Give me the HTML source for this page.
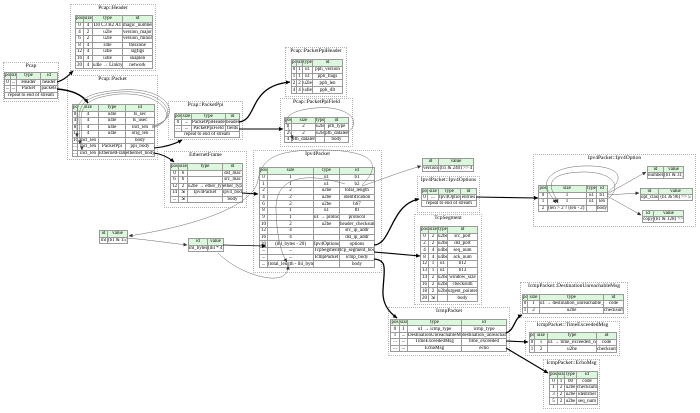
<!DOCTYPE html>
<html>
<head>
<meta charset="utf-8">
<style>
html,body{margin:0;padding:0;background:#fff;}
body{width:700px;height:413px;overflow:hidden;position:relative;font-family:"Liberation Serif",serif;color:#000;}
.c{position:absolute;border:1px dotted #b4b4b4;box-sizing:border-box;}
.t{position:absolute;font-size:5.5px;line-height:6px;text-align:center;white-space:nowrap;}
table{position:absolute;border-collapse:collapse;table-layout:fixed;font-size:5px;line-height:5px;}
td{border:1px solid #9a9a9a;padding:0;white-space:nowrap;overflow:hidden;text-align:center;vertical-align:middle;}
tr.h td{background:#dcf8dc;}
svg{position:absolute;left:0;top:0;pointer-events:none;}
</style>
</head>
<body>

<!-- clusters -->
<div class="c" style="left:3px;top:62px;width:56px;height:40px"></div>
<div class="t" style="left:3px;top:63px;width:56px">Pcap</div>

<div class="c" style="left:70px;top:4px;width:86px;height:67px"></div>
<div class="t" style="left:70px;top:5px;width:86px">Pcap::Header</div>

<div class="c" style="left:67px;top:75px;width:91px;height:85px"></div>
<div class="t" style="left:67px;top:76px;width:91px">Pcap::Packet</div>

<div class="c" style="left:168px;top:101px;width:75px;height:39px"></div>
<div class="t" style="left:168px;top:102px;width:75px">Pcap::PacketPpi</div>

<div class="c" style="left:285px;top:47px;width:62px;height:50px"></div>
<div class="t" style="left:285px;top:48px;width:62px">Pcap::PacketPpiHeader</div>

<div class="c" style="left:280px;top:98px;width:73px;height:49px"></div>
<div class="t" style="left:280px;top:99px;width:73px">Pcap::PacketPpiField</div>

<div class="c" style="left:164px;top:151px;width:83px;height:57px"></div>
<div class="t" style="left:164px;top:152px;width:83px">EthernetFrame</div>

<div class="c" style="left:253px;top:150px;width:129px;height:123px"></div>
<div class="t" style="left:253px;top:151px;width:129px">Ipv4Packet</div>

<div class="c" style="left:417px;top:176px;width:63px;height:37px"></div>
<div class="t" style="left:417px;top:177px;width:63px">Ipv4Packet::Ipv4Options</div>

<div class="c" style="left:414px;top:214px;width:68px;height:91px"></div>
<div class="t" style="left:414px;top:215px;width:68px">TcpSegment</div>

<div class="c" style="left:388px;top:307px;width:122px;height:49px"></div>
<div class="t" style="left:388px;top:308px;width:122px">IcmpPacket</div>

<div class="c" style="left:533px;top:154px;width:163px;height:73px"></div>
<div class="t" style="left:533px;top:155px;width:163px">Ipv4Packet::Ipv4Option</div>

<div class="c" style="left:520px;top:282px;width:108px;height:36px"></div>
<div class="t" style="left:520px;top:283px;width:108px">IcmpPacket::DestinationUnreachableMsg</div>

<div class="c" style="left:525px;top:321px;width:95px;height:35px"></div>
<div class="t" style="left:525px;top:322px;width:95px">IcmpPacket::TimeExceededMsg</div>

<div class="c" style="left:543px;top:359px;width:57px;height:50px"></div>
<div class="t" style="left:543px;top:360px;width:57px">IcmpPacket::EchoMsg</div>

<!-- Pcap -->
<table style="left:4px;top:72px;width:53px;height:27px">
<colgroup><col style="width:6px"><col style="width:6px"><col style="width:24px"><col style="width:17px"></colgroup>
<tr class="h"><td>pos</td><td>size</td><td>type</td><td>id</td></tr>
<tr><td>0</td><td>...</td><td>Header</td><td>header</td></tr>
<tr><td>...</td><td>...</td><td>Packet</td><td>packets</td></tr>
<tr><td colspan="4">repeat to end of stream</td></tr>
</table>

<!-- Pcap::Header -->
<table style="left:75px;top:15px;width:77px;height:54px">
<colgroup><col style="width:8px"><col style="width:9px"><col style="width:30px"><col style="width:30px"></colgroup>
<tr class="h"><td>pos</td><td>size</td><td>type</td><td>id</td></tr>
<tr><td>0</td><td>4</td><td>D4 C3 B2 A1</td><td>magic_number</td></tr>
<tr><td>4</td><td>2</td><td>u2le</td><td>version_major</td></tr>
<tr><td>6</td><td>2</td><td>u2le</td><td>version_minor</td></tr>
<tr><td>8</td><td>4</td><td>s4le</td><td>thiszone</td></tr>
<tr><td>12</td><td>4</td><td>u4le</td><td>sigfigs</td></tr>
<tr><td>16</td><td>4</td><td>u4le</td><td>snaplen</td></tr>
<tr><td>20</td><td>4</td><td>u4le → Linktype</td><td>network</td></tr>
</table>

<!-- Pcap::Packet -->
<table style="left:72px;top:104px;width:82px;height:53px">
<colgroup><col style="width:5px"><col style="width:21px"><col style="width:27px"><col style="width:29px"></colgroup>
<tr class="h"><td>pos</td><td>size</td><td>type</td><td>id</td></tr>
<tr><td>0</td><td>4</td><td>u4le</td><td>ts_sec</td></tr>
<tr><td>4</td><td>4</td><td>u4le</td><td>ts_usec</td></tr>
<tr><td>8</td><td>4</td><td>u4le</td><td>incl_len</td></tr>
<tr><td>12</td><td>4</td><td>u4le</td><td>orig_len</td></tr>
<tr><td>16</td><td>incl_len</td><td></td><td>body</td></tr>
<tr><td>...</td><td>incl_len</td><td>PacketPpi</td><td>ppi_body</td></tr>
<tr><td>...</td><td>incl_len</td><td>EthernetFrame</td><td>ethernet_body</td></tr>
</table>

<!-- Pcap::PacketPpi -->
<table style="left:174px;top:113px;width:65px;height:25px">
<colgroup><col style="width:7px"><col style="width:10px"><col style="width:34px"><col style="width:14px"></colgroup>
<tr class="h"><td>pos</td><td>size</td><td>type</td><td>id</td></tr>
<tr><td>0</td><td>...</td><td>PacketPpiHeader</td><td>header</td></tr>
<tr><td>...</td><td>...</td><td>PacketPpiField</td><td>fields</td></tr>
<tr><td colspan="4">repeat to end of stream</td></tr>
</table>

<!-- Pcap::PacketPpiHeader -->
<table style="left:291px;top:59px;width:51px;height:35px">
<colgroup><col style="width:5px"><col style="width:6px"><col style="width:10px"><col style="width:30px"></colgroup>
<tr class="h"><td>pos</td><td>size</td><td>type</td><td>id</td></tr>
<tr><td>0</td><td>1</td><td>u1</td><td>pph_version</td></tr>
<tr><td>1</td><td>1</td><td>u1</td><td>pph_flags</td></tr>
<tr><td>2</td><td>2</td><td>u2le</td><td>pph_len</td></tr>
<tr><td>4</td><td>4</td><td>u4le</td><td>pph_dlt</td></tr>
</table>

<!-- Pcap::PacketPpiField -->
<table style="left:284px;top:117px;width:64px;height:26px">
<colgroup><col style="width:7px"><col style="width:24px"><col style="width:9px"><col style="width:24px"></colgroup>
<tr class="h"><td>pos</td><td>size</td><td>type</td><td>id</td></tr>
<tr><td>0</td><td>2</td><td>u2le</td><td>pfh_type</td></tr>
<tr><td>2</td><td>2</td><td>u2le</td><td>pfh_datalen</td></tr>
<tr><td>4</td><td>pfh_datalen</td><td></td><td>body</td></tr>
</table>

<!-- EthernetFrame -->
<table style="left:170px;top:163px;width:72px;height:40px">
<colgroup><col style="width:8px"><col style="width:9px"><col style="width:35px"><col style="width:20px"></colgroup>
<tr class="h"><td>pos</td><td>size</td><td>type</td><td>id</td></tr>
<tr><td>0</td><td>6</td><td></td><td>dst_mac</td></tr>
<tr><td>6</td><td>6</td><td></td><td>src_mac</td></tr>
<tr><td>12</td><td>2</td><td>u2be → ether_type</td><td>ether_type</td></tr>
<tr><td>14</td><td>⇲</td><td>Ipv4Packet</td><td>ipv4_body</td></tr>
<tr><td>...</td><td>⇲</td><td></td><td>body</td></tr>
</table>

<!-- Ipv4Packet -->
<table style="left:259px;top:167px;width:115px;height:101px">
<colgroup><col style="width:8px"><col style="width:46px"><col style="width:26px"><col style="width:35px"></colgroup>
<tr class="h"><td>pos</td><td>size</td><td>type</td><td>id</td></tr>
<tr><td>0</td><td>1</td><td>u1</td><td>b1</td></tr>
<tr><td>1</td><td>1</td><td>u1</td><td>b2</td></tr>
<tr><td>2</td><td>2</td><td>u2be</td><td>total_length</td></tr>
<tr><td>4</td><td>2</td><td>u2be</td><td>identification</td></tr>
<tr><td>6</td><td>2</td><td>u2be</td><td>b67</td></tr>
<tr><td>8</td><td>1</td><td>u1</td><td>ttl</td></tr>
<tr><td>9</td><td>1</td><td>u1 → protocol</td><td>protocol</td></tr>
<tr><td>10</td><td>2</td><td>u2be</td><td>header_checksum</td></tr>
<tr><td>12</td><td>4</td><td></td><td>src_ip_addr</td></tr>
<tr><td>16</td><td>4</td><td></td><td>dst_ip_addr</td></tr>
<tr><td>20</td><td>(ihl_bytes - 20)</td><td>Ipv4Options</td><td>options</td></tr>
<tr><td>...</td><td>...</td><td>TcpSegment</td><td>tcp_segment_body</td></tr>
<tr><td>...</td><td>...</td><td>IcmpPacket</td><td>icmp_body</td></tr>
<tr><td>...</td><td>(total_length - ihl_bytes)</td><td></td><td>body</td></tr>
</table>

<!-- version -->
<table style="left:422px;top:158px;width:51px;height:14px">
<colgroup><col style="width:16px"><col style="width:35px"></colgroup>
<tr class="h"><td>id</td><td>value</td></tr>
<tr><td>version</td><td>(b1 &amp; 240) &gt;&gt; 4</td></tr>
</table>

<!-- ihl -->
<table style="left:99px;top:230px;width:28px;height:14px">
<colgroup><col style="width:8px"><col style="width:20px"></colgroup>
<tr class="h"><td>id</td><td>value</td></tr>
<tr><td>ihl</td><td>(b1 &amp; 15)</td></tr>
</table>

<!-- ihl_bytes -->
<table style="left:188px;top:238px;width:35px;height:14px">
<colgroup><col style="width:19px"><col style="width:16px"></colgroup>
<tr class="h"><td>id</td><td>value</td></tr>
<tr><td>ihl_bytes</td><td>(ihl * 4)</td></tr>
</table>

<!-- Ipv4Options -->
<table style="left:421px;top:188px;width:55px;height:19px">
<colgroup><col style="width:6px"><col style="width:11px"><col style="width:22px"><col style="width:16px"></colgroup>
<tr class="h"><td>pos</td><td>size</td><td>type</td><td>id</td></tr>
<tr><td>0</td><td>...</td><td>Ipv4Option</td><td>entries</td></tr>
<tr><td colspan="4">repeat to end of stream</td></tr>
</table>

<!-- TcpSegment -->
<table style="left:420px;top:226px;width:57px;height:76px">
<colgroup><col style="width:8px"><col style="width:9px"><col style="width:10px"><col style="width:30px"></colgroup>
<tr class="h"><td>pos</td><td>size</td><td>type</td><td>id</td></tr>
<tr><td>0</td><td>2</td><td>u2be</td><td>src_port</td></tr>
<tr><td>2</td><td>2</td><td>u2be</td><td>dst_port</td></tr>
<tr><td>4</td><td>4</td><td>u4be</td><td>seq_num</td></tr>
<tr><td>8</td><td>4</td><td>u4be</td><td>ack_num</td></tr>
<tr><td>12</td><td>1</td><td>u1</td><td>b12</td></tr>
<tr><td>13</td><td>1</td><td>u1</td><td>b13</td></tr>
<tr><td>14</td><td>2</td><td>u2be</td><td>window_size</td></tr>
<tr><td>16</td><td>2</td><td>u2be</td><td>checksum</td></tr>
<tr><td>18</td><td>2</td><td>u2be</td><td>urgent_pointer</td></tr>
<tr><td>20</td><td>⇲</td><td></td><td>body</td></tr>
</table>

<!-- IcmpPacket -->
<table style="left:390px;top:319px;width:116px;height:33px">
<colgroup><col style="width:9px"><col style="width:8px"><col style="width:54px"><col style="width:45px"></colgroup>
<tr class="h"><td>pos</td><td>size</td><td>type</td><td>id</td></tr>
<tr><td>0</td><td>1</td><td>u1 → icmp_type</td><td>icmp_type</td></tr>
<tr><td>1</td><td>...</td><td>DestinationUnreachableMsg</td><td>destination_unreachable</td></tr>
<tr><td>...</td><td>...</td><td>TimeExceededMsg</td><td>time_exceeded</td></tr>
<tr><td>...</td><td>...</td><td>EchoMsg</td><td>echo</td></tr>
</table>

<!-- Ipv4Option -->
<table style="left:538px;top:185px;width:69px;height:27px">
<colgroup><col style="width:9px"><col style="width:39px"><col style="width:10px"><col style="width:11px"></colgroup>
<tr class="h"><td>pos</td><td>size</td><td>type</td><td>id</td></tr>
<tr><td>0</td><td>1</td><td>u1</td><td>b1</td></tr>
<tr><td>1</td><td>1</td><td>u1</td><td>len</td></tr>
<tr><td>2</td><td>(len &gt; 2 ? (len - 2) : 0)</td><td></td><td>body</td></tr>
</table>

<!-- number -->
<table style="left:647px;top:166px;width:36px;height:12px">
<colgroup><col style="width:16px"><col style="width:20px"></colgroup>
<tr class="h"><td>id</td><td>value</td></tr>
<tr><td>number</td><td>(b1 &amp; 31)</td></tr>
</table>

<!-- opt_class -->
<table style="left:640px;top:188px;width:52px;height:12px">
<colgroup><col style="width:18px"><col style="width:34px"></colgroup>
<tr class="h"><td>id</td><td>value</td></tr>
<tr><td>opt_class</td><td>(b1 &amp; 96) &gt;&gt; 5</td></tr>
</table>

<!-- copy -->
<table style="left:642px;top:210px;width:41px;height:12px">
<colgroup><col style="width:11px"><col style="width:30px"></colgroup>
<tr class="h"><td>id</td><td>value</td></tr>
<tr><td>copy</td><td>(b1 &amp; 128) &gt;&gt; 7</td></tr>
</table>

<!-- DestinationUnreachableMsg -->
<table style="left:522px;top:294px;width:101px;height:20px">
<colgroup><col style="width:5px"><col style="width:12px"><col style="width:64px"><col style="width:20px"></colgroup>
<tr class="h"><td>pos</td><td>size</td><td>type</td><td>id</td></tr>
<tr><td>0</td><td>1</td><td>u1 → destination_unreachable_code</td><td>code</td></tr>
<tr><td>1</td><td>2</td><td>u2be</td><td>checksum</td></tr>
</table>

<!-- TimeExceededMsg -->
<table style="left:529px;top:332px;width:87px;height:21px">
<colgroup><col style="width:5px"><col style="width:13px"><col style="width:49px"><col style="width:20px"></colgroup>
<tr class="h"><td>pos</td><td>size</td><td>type</td><td>id</td></tr>
<tr><td>0</td><td>1</td><td>u1 → time_exceeded_code</td><td>code</td></tr>
<tr><td>1</td><td>2</td><td>u2be</td><td>checksum</td></tr>
</table>

<!-- EchoMsg -->
<table style="left:549px;top:371px;width:48px;height:34px">
<colgroup><col style="width:8px"><col style="width:7px"><col style="width:12px"><col style="width:21px"></colgroup>
<tr class="h"><td>pos</td><td>size</td><td>type</td><td>id</td></tr>
<tr><td>0</td><td>1</td><td>00</td><td>code</td></tr>
<tr><td>1</td><td>2</td><td>u2be</td><td>checksum</td></tr>
<tr><td>3</td><td>2</td><td>u2be</td><td>identifier</td></tr>
<tr><td>5</td><td>2</td><td>u2be</td><td>seq_num</td></tr>
</table>

<!-- edges -->
<svg width="700" height="413" viewBox="0 0 700 413">
<defs>
<marker id="a" viewBox="0 0 10 10" refX="9" refY="5" markerWidth="4.5" markerHeight="4.5" markerUnits="userSpaceOnUse" orient="auto"><path d="M0,0.5 L10,5 L0,9.5z" fill="#000"/></marker>
<marker id="g" viewBox="0 0 10 10" refX="9" refY="5" markerWidth="4" markerHeight="4" markerUnits="userSpaceOnUse" orient="auto"><path d="M0,0.5 L10,5 L0,9.5z" fill="#333"/></marker>
</defs>
<g fill="none" stroke="#000" stroke-width="1.1">
<path d="M57,82 C64,80 68,76 73,71" marker-end="url(#a)"/>
<path d="M57,89 C70,90 82,94 88,103" marker-end="url(#a)" stroke-width="1.4"/>
<path d="M154,148 C165,147 175,144 182,140" marker-end="url(#a)"/>
<path d="M154,153 C162,154 168,157 174,162" marker-end="url(#a)"/>
<path d="M239,122 C258,120 248,86 290,82" marker-end="url(#a)" stroke-width="1.3"/>
<path d="M239,129 L283,129" marker-end="url(#a)"/>
<path d="M242,193 L258,194" marker-end="url(#a)"/>
<path d="M374,245 C392,244 390,205 419,199" marker-end="url(#a)" stroke-width="1.3"/>
<path d="M374,252 L420,256" marker-end="url(#a)"/>
<path d="M374,259 C388,260 384,270 383,290 C382,305 390,313 397,318" marker-end="url(#a)" stroke-width="1.3"/>
<path d="M476,197 L538,198" marker-end="url(#a)"/>
<path d="M506,333 C515,330 514,318 522,315" marker-end="url(#a)" stroke-width="1.3"/>
<path d="M506,341 L528,342" marker-end="url(#a)"/>
<path d="M506,348 L548,373" marker-end="url(#a)"/>
<path d="M223,245 L266,246" marker-end="url(#a)" stroke-width="0.8"/>
</g>
<g fill="none" stroke="#666" stroke-width="0.5">
<path d="M152,126 C185,118 170,86 120,90 C85,93 77,100 77,115 L77,137" marker-end="url(#g)"/>
<path d="M152,127 C182,119 168,89 120,92 C88,95 79,102 79,118 L80,144" marker-end="url(#g)"/>
<path d="M152,128 C180,121 166,92 120,94 C90,97 81,104 81,120 L82,150" marker-end="url(#g)"/>
<path d="M347,133 C365,120 345,105 315,108 C295,110 284,115 287,125 L293,139" marker-end="url(#g)"/>
<path d="M362,185 C382,165 376,150 320,150 C272,150 262,160 258,180 C254,205 200,225 129,236" marker-end="url(#g)"/>
<path d="M362,186 C380,180 400,172 421,166" marker-end="url(#g)"/>
<path d="M127,238 C150,240 170,243 187,245" marker-end="url(#g)"/>
<path d="M218,253 C230,265 250,276 270,278 C283,279 288,274 288,266" marker-end="url(#g)"/>
<path d="M345,184 C300,170 275,180 276,210 C277,240 282,255 287,262" marker-end="url(#g)"/>
<path d="M607,194 L646,172" marker-end="url(#g)"/>
<path d="M607,195 L639,193" marker-end="url(#g)"/>
<path d="M607,196 L641,215" marker-end="url(#g)"/>
<path d="M607,200 C625,185 610,172 585,172 C560,172 548,178 552,190 L558,203" marker-end="url(#g)"/>
<path d="M607,193 C630,175 615,165 583,166 C555,167 543,178 547,190 L556,203" marker-end="url(#g)"/>
</g>
</svg>

</body>
</html>
